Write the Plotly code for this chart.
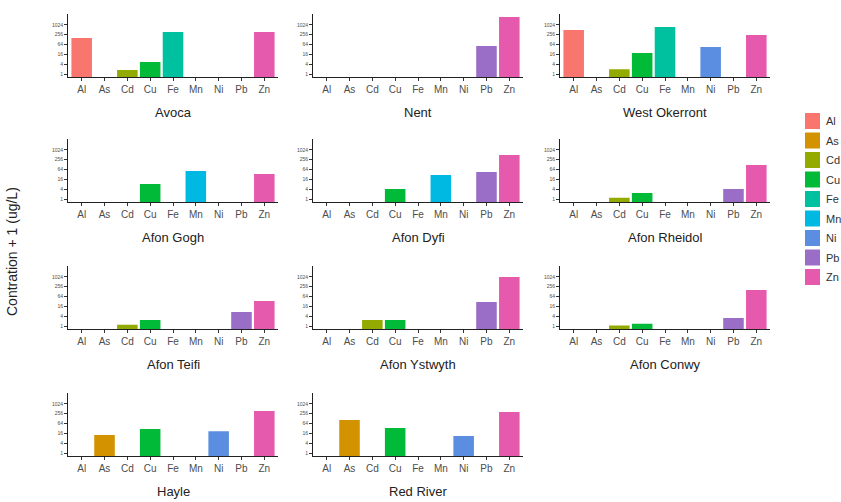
import plotly.graph_objects as go

# ---------------- data ----------------
elements = ["Al", "As", "Cd", "Cu", "Fe", "Mn", "Ni", "Pb", "Zn"]
colors = ["#F8766D", "#D39200", "#93AA00", "#00BA38", "#00C19F",
          "#00B9E3", "#5B8DE0", "#9A6DC6", "#E65AAE"]

sites = ["Avoca", "Nent", "West Okerront",
         "Afon Gogh", "Afon Dyfi", "Afon Rheidol",
         "Afon Teifi", "Afon Ystwyth", "Afon Conwy",
         "Hayle", "Red River"]

#            Al    As    Cd   Cu    Fe    Mn    Ni    Pb    Zn
avoca     = [160, None, 1.8, 5.5, 375, None, None, None, 375]
nent      = [None, None, None, None, None, None, None, 52, 3080]
west_ok   = [495, None, 2.0, 19.6, 755, None, 45, None, 245]
afon_gogh = [None, None, None, 8.4, None, 52, None, None, 34]
afon_dyfi = [None, None, None, 4.2, None, 30, None, 45, 500]
afon_rhei = [None, None, 1.2, 2.4, None, None, None, 4.2, 120]
afon_teif = [None, None, 1.2, 2.4, None, None, None, 7.3, 34]
afon_ystw = [None, None, 2.4, 2.4, None, None, None, 30, 1000]
afon_conw = [None, None, 1.1, 1.4, None, None, None, 3.1, 160]
hayle     = [None, 12.8, None, 30, None, None, 22, None, 375]
red_river = [None, 105, None, 34, None, None, 11, None, 325]

site_values = [avoca, nent, west_ok, afon_gogh, afon_dyfi, afon_rhei,
               afon_teif, afon_ystw, afon_conw, hayle, red_river]

y_ticks = [1, 4, 16, 64, 256, 1024]
y_title = "Contration + 1 (ug/L)"

# ---------------- layout geometry (pixels) ----------------
W, H = 841, 502
col_left = [68, 313, 560]
panel_w = 210
row_bottom = [77, 202, 329, 456]
panel_h = 63
log2_lo, log2_hi = -0.58, 12.2
LOG10_2 = 0.30102999566

fig = go.Figure()

def ax_name(n, kind):
    return kind if n == 1 else f"{kind}{n}"

for ei, el in enumerate(elements):
    for si, site in enumerate(sites):
        v = site_values[si][ei]
        if v is None:
            continue
        n = si + 1
        fig.add_trace(go.Bar(
            x=[el], y=[v], width=0.9,
            xaxis=ax_name(n, "x"), yaxis=ax_name(n, "y"),
            marker=dict(color=colors[ei], line=dict(width=0)),
            name=el, showlegend=False,
        ))

layout = dict(
    width=W, height=H, autosize=False,
    margin=dict(l=0, r=0, t=0, b=0),
    paper_bgcolor="white", plot_bgcolor="white",
    barmode="overlay",
    font=dict(family="Liberation Sans, Arial, sans-serif", color="#333333"),
    showlegend=False,
)

annotations = []
shapes = []
for si, site in enumerate(sites):
    r, c = divmod(si, 3)
    n = si + 1
    x0 = col_left[c] / W
    x1 = (col_left[c] + panel_w) / W
    y0 = 1 - row_bottom[r] / H
    y1 = 1 - (row_bottom[r] - panel_h) / H
    xk = "xaxis" if n == 1 else f"xaxis{n}"
    yk = "yaxis" if n == 1 else f"yaxis{n}"
    layout[xk] = dict(
        domain=[x0, x1], anchor=ax_name(n, "y"),
        type="category", categoryorder="array", categoryarray=elements,
        range=[-0.6, len(elements) - 0.4], dtick=1,
        showline=True, linecolor="#222222", linewidth=1,
        ticks="outside", ticklen=3, tickcolor="#333333",
        tickfont=dict(size=10, color="#4d4d4d"),
        showgrid=False, zeroline=False, fixedrange=True,
    )
    layout[yk] = dict(
        domain=[y0, y1], anchor=ax_name(n, "x"),
        type="log",
        range=[log2_lo * LOG10_2, log2_hi * LOG10_2],
        tickmode="array", tickvals=y_ticks,
        ticktext=[str(t) for t in y_ticks],
        showline=True, linecolor="#222222", linewidth=1,
        ticks="outside", ticklen=3, tickcolor="#333333",
        tickfont=dict(size=5, color="#4d4d4d"),
        showgrid=False, zeroline=False, fixedrange=True,
    )
    annotations.append(dict(
        text=site, xref="paper", yref="paper",
        x=(col_left[c] + panel_w / 2) / W, y=1 - (row_bottom[r] + 35) / H,
        xanchor="center", yanchor="middle", showarrow=False,
        font=dict(size=13, color="#222222"),
    ))

# legend (keys + labels) on the right, built from elements/colors
key_left, key_w, key_h = 805, 15, 16
first_center, step = 121, 19.5
for ei, el in enumerate(elements):
    cy = first_center + ei * step
    shapes.append(dict(
        type="rect", xref="paper", yref="paper",
        x0=key_left / W, x1=(key_left + key_w) / W,
        y0=1 - (cy + key_h / 2) / H, y1=1 - (cy - key_h / 2) / H,
        fillcolor=colors[ei], line=dict(width=0),
    ))
    annotations.append(dict(
        text=el, xref="paper", yref="paper",
        x=(key_left + key_w + 4) / W, y=1 - cy / H,
        xanchor="left", yanchor="middle", showarrow=False,
        font=dict(size=11, color="#333333"),
    ))

annotations.append(dict(
    text=y_title, xref="paper", yref="paper",
    x=12 / W, y=1 - 252 / H, xanchor="center", yanchor="middle",
    textangle=-90, showarrow=False, font=dict(size=14, color="#222222"),
))
layout["annotations"] = annotations
layout["shapes"] = shapes

fig.update_layout(**layout)
fig.write_html("out.html")
